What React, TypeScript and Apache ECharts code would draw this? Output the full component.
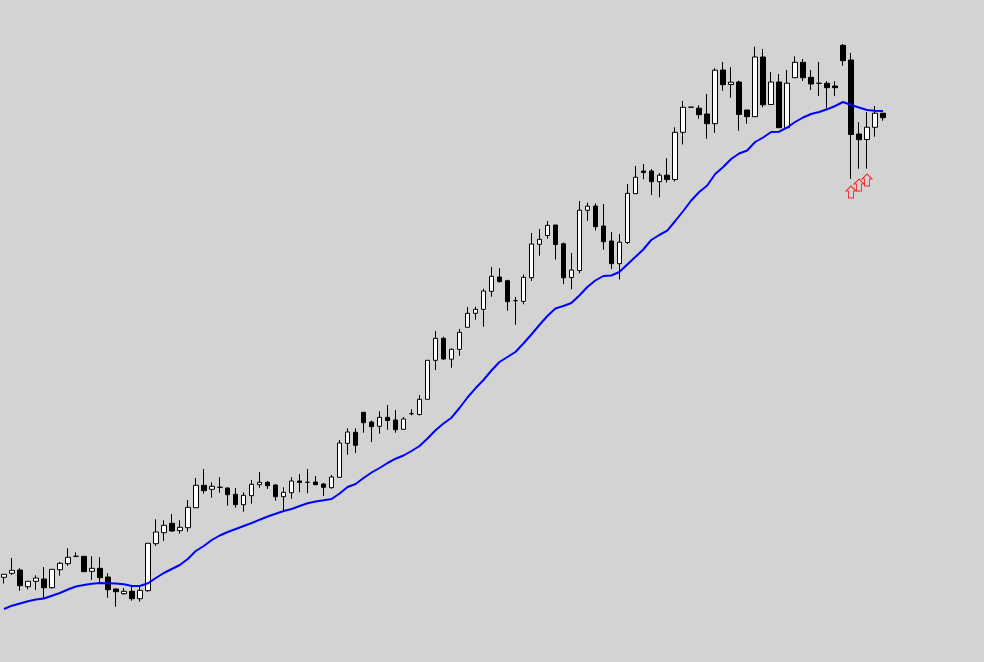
import React, { useEffect, useRef } from "react";
import * as echarts from "echarts";

// Candles: [open, close, low, high]
const candles: number[][] = [
  [84.7, 87.7, 78.5, 87.7], [88.7, 91.7, 87, 104], [92, 76.3, 71.3, 93.7], [75.3, 80.7, 72.7, 80.7],
  [80.7, 84, 72, 86.7], [83, 74.3, 63.7, 95], [74.3, 92.7, 73.3, 92.7], [92.3, 98.7, 86.3, 100],
  [98.3, 104.7, 96.3, 113.7], [105.7, 105.7, 104.7, 109.7], [105.7, 90.3, 90.3, 105.7], [90.7, 93.7, 82, 105.7],
  [93.7, 84.3, 79.7, 104.7], [85, 72.3, 64.3, 88.7], [73, 70.3, 55.3, 73.7], [68.3, 70.7, 67.3, 74],
  [70.7, 63.3, 61.3, 76.3], [63.3, 71.7, 60.3, 76.3], [71.3, 118.7, 70.3, 118.7], [118.3, 130, 116, 142.7],
  [129.3, 136.7, 121, 141.7], [138.7, 131, 130.3, 148], [131.3, 134.7, 128.3, 141.7], [134.3, 154.7, 130.3, 162],
  [154.3, 176.7, 154.3, 184], [176.7, 171.3, 168.3, 193], [172.7, 175.7, 164.3, 179.7], [174.7, 174.7, 169.3, 184.7],
  [174, 167.3, 156.3, 174.7], [167.7, 157.3, 154.3, 174], [157.3, 166.7, 150.3, 169.7], [166.3, 177.7, 158.3, 182],
  [177.3, 179.7, 174.3, 190], [179.7, 176.3, 173, 181], [177, 165.3, 161.3, 178], [165.3, 169.7, 150.7, 174.7],
  [169.3, 181, 163.3, 184.7], [181, 179.5, 169.7, 188], [179.7, 179.7, 168.7, 193], [180, 177.3, 177.3, 186],
  [178, 174.7, 166, 179], [174.3, 185, 173.3, 187], [184.7, 219, 184.3, 222], [218.7, 230, 207.3, 233.7],
  [229.7, 216.7, 209, 233.7], [249.7, 239.3, 229.3, 249.7], [240, 235.3, 220, 241.3], [235.7, 244.7, 228.3, 250.7],
  [244.7, 241.5, 232.3, 257], [242, 232.3, 229.3, 252], [232.7, 243, 232.3, 245], [248.3, 248.3, 246.7, 252.7],
  [247.5, 262.7, 246.5, 267], [262.7, 301.7, 262.7, 302], [301.7, 323.7, 292, 331], [323.7, 303, 302.3, 325.3],
  [302.8, 312.7, 294.3, 313.5], [312.7, 329.7, 306.3, 333], [334.7, 348.7, 334.7, 355], [348.7, 352.7, 342.3, 355.3],
  [352.7, 371, 335.3, 373.3], [370.7, 385.7, 365.3, 395], [385, 380.3, 379.5, 393.7], [381.3, 360.3, 351.3, 382.3],
  [361.3, 361.3, 337.3, 365], [360.7, 384.7, 357.7, 387.5], [384.3, 418, 381, 429], [417.7, 422.7, 406.3, 433],
  [426.5, 436.7, 423.3, 441], [437, 417.5, 402.5, 437], [418.2, 384.2, 377.8, 419.5], [384.5, 392, 372.7, 409],
  [391.5, 451.8, 388.7, 461], [451.7, 455.8, 441.2, 459.3], [456, 435.3, 431.5, 458.7], [436, 420.3, 412.2, 458],
  [421, 398.3, 393, 430], [398.3, 419.8, 382.5, 428], [419.5, 468.7, 418, 478], [468.3, 484.8, 468.3, 496],
  [491, 489.5, 482.7, 498], [491, 480.3, 467, 493], [480.3, 486.8, 464.7, 489], [486.8, 482.5, 479.5, 503.8],
  [482.5, 529.7, 480.5, 534.7], [529.7, 554.7, 517.5, 561], [554.8, 554.8, 554.8, 554.8], [553.8, 547.3, 543.3, 556.7],
  [548, 538.3, 523.3, 568], [538.3, 591.8, 529.2, 594], [592, 577.3, 571.3, 600], [577.5, 579.8, 564.3, 595],
  [580, 547.5, 531.3, 581.3], [552, 545.3, 538.3, 552], [545.3, 605, 545, 615.3], [605, 557.2, 554.7, 613],
  [557.5, 580, 557.3, 590], [580, 534.3, 534.3, 588], [534.3, 578.8, 534.3, 592], [584.3, 599.7, 584.3, 605.7],
  [599.7, 584.3, 581, 603], [584.7, 578, 572, 592], [578.7, 578.7, 566, 600], [578.7, 574.3, 553.7, 580.7],
  [576, 574.3, 566, 580.7], [616.7, 601.3, 596.2, 618], [602, 527.5, 483.3, 609], [528, 522.3, 493.3, 539.7],
  [522.5, 534.8, 493.3, 550], [534.7, 548.8, 525.3, 556], [548.8, 544.3, 541.3, 548.8],
];

const movingAverage: number[] = [
  53, 56.3, 58.5, 60.7, 62.5, 63.5, 66.3, 69, 72.5, 75.5, 77, 78.3, 79, 78.8, 78.5, 77.7, 76, 76, 78.7, 84,
  89, 93, 97, 103, 111, 116, 122, 126.5, 130, 133, 136, 139, 142.3, 145.5, 148.3, 151, 153, 156, 158.7, 160.5,
  161.7, 163, 168.5, 175, 178, 184, 189.5, 194, 199, 203.3, 206.5, 211, 216, 223.5, 231.7, 238.5, 244.3, 254, 264.5, 273.7,
  282, 291.5, 300, 305, 310, 318.5, 327.5, 337, 346, 353.5, 356, 359, 366.5, 375, 381.5, 386, 386.5, 390, 397.5, 405,
  412.5, 422, 427, 431.3, 441, 451, 461.5, 470, 476.5, 488, 495, 503, 508.5, 511.5, 520, 524.5, 530, 530.3, 534.5, 540,
  544.5, 548, 550, 552.7, 556, 560, 557, 554.5, 552, 551.3, 551,
];

// Buy-signal arrows: [candle index, value]
const arrowSignals: [number, number][] = [
  [106, 470],
  [107, 477],
  [108, 482],
];

const categories: string[] = candles.map((_, i) => String(i + 1));

const ARROW =
  "path://M5,0L10,5L7.5,5L7.5,12L2.5,12L2.5,5L0,5Z";

export default function App() {
  const ref = useRef<HTMLDivElement>(null);
  useEffect(() => {
    document.body.style.margin = "0";
    if (!ref.current) return;
    const chart = echarts.init(ref.current, undefined, { renderer: "svg" });
    chart.setOption({
      animation: false,
      backgroundColor: "#d3d3d3",
      grid: { left: -1, top: 0, width: 888, height: 662 },
      xAxis: {
        type: "category",
        data: categories,
        boundaryGap: true,
        show: false,
      },
      yAxis: {
        type: "value",
        min: 0,
        max: 662,
        show: false,
        splitLine: { show: false },
      },
      series: [
        {
          type: "candlestick",
          data: candles,
          barWidth: 5,
          itemStyle: {
            color: "#ffffff",
            color0: "#000000",
            borderColor: "#000000",
            borderColor0: "#000000",
            borderColorDoji: "#000000",
            borderWidth: 1,
          },
        },
        {
          type: "line",
          data: movingAverage,
          symbol: "none",
          smooth: false,
          lineStyle: { color: "#0000ff", width: 2 },
          z: 3,
        },
        {
          type: "scatter",
          data: arrowSignals.map(([i, v]) => [categories[i], v]),
          symbol: ARROW,
          symbolSize: [10, 12],
          itemStyle: {
            color: "rgba(0,0,0,0)",
            borderColor: "#ff0000",
            borderWidth: 1,
          },
          z: 4,
        },
      ],
    });
    return () => chart.dispose();
  }, []);
  return <div ref={ref} style={{ width: 984, height: 662 }} />;
}
